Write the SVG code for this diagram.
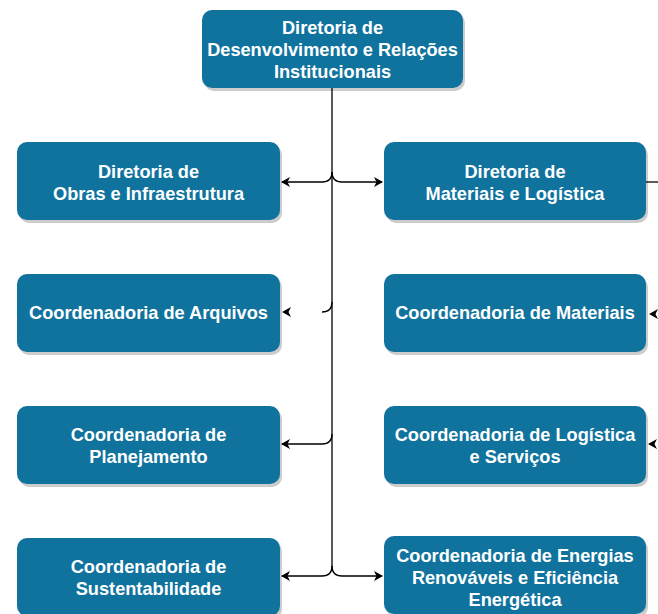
<svg xmlns="http://www.w3.org/2000/svg" width="658" height="614" viewBox="0 0 658 614">
<defs>
<style>
.box{fill:#10739E;}
.sh{fill:#000;opacity:0.2;}
.t{font-family:"Liberation Sans",Arial,sans-serif;font-weight:bold;font-size:18.2px;fill:#fff;text-anchor:middle;}
.c{fill:none;stroke:#000;stroke-width:1.3;}
.ah{fill:#000;}
</style>
<marker id="arr" markerWidth="10" markerHeight="10" refX="8" refY="5" orient="auto" markerUnits="userSpaceOnUse">
<path d="M0,0 L9,5 L0,10 L2.5,5 Z" fill="#000"/>
</marker>
</defs>
<rect width="658" height="614" fill="#fff"/>
<g id="connectors">
<path class="c" d="M332,88 V567"/>
<path class="c" d="M332,172 Q332,182 322,182 H282" marker-end="url(#arr)"/>
<path class="c" d="M332,172 Q332,182 342,182 H382" marker-end="url(#arr)"/>
<path class="c" d="M332,302 Q332,312 322,312"/>
<path class="ah" d="M282,312 L291,307 L288.5,312 L291,317 Z"/>
<path class="c" d="M332,434 Q332,444 322,444 H282" marker-end="url(#arr)"/>
<path class="c" d="M332,566 Q332,576 322,576 H282" marker-end="url(#arr)"/>
<path class="c" d="M332,566 Q332,576 342,576 H382" marker-end="url(#arr)"/>
<path class="c" d="M646,182 H658"/>
<path class="ah" d="M649,314 L658,309 L655.5,314 L658,319 Z"/>
<path class="ah" d="M648,444 L657,439 L654.5,444 L657,449 Z"/>
</g>
<g id="n0"><rect class="sh" x="204" y="13" width="261" height="78" rx="10"/><rect class="box" x="202" y="10" width="261" height="78" rx="10"/>
<text class="t" x="332.5" y="34">Diretoria de</text><text class="t" x="332.5" y="56">Desenvolvimento e Relações</text><text class="t" x="332.5" y="78">Institucionais</text></g>
<g id="n1"><rect class="sh" x="19" y="145" width="263" height="78" rx="10"/><rect class="box" x="17" y="142" width="263" height="78" rx="10"/>
<text class="t" x="148.5" y="178">Diretoria de</text><text class="t" x="148.5" y="200">Obras e Infraestrutura</text></g>
<g id="n2"><rect class="sh" x="386" y="145" width="262" height="78" rx="10"/><rect class="box" x="384" y="142" width="262" height="78" rx="10"/>
<text class="t" x="515" y="178">Diretoria de</text><text class="t" x="515" y="200">Materiais e Logística</text></g>
<g id="n3"><rect class="sh" x="19" y="277" width="263" height="78" rx="10"/><rect class="box" x="17" y="274" width="263" height="78" rx="10"/>
<text class="t" x="148.5" y="319">Coordenadoria de Arquivos</text></g>
<g id="n4"><rect class="sh" x="386" y="277" width="262" height="78" rx="10"/><rect class="box" x="384" y="274" width="262" height="78" rx="10"/>
<text class="t" x="515" y="319">Coordenadoria de Materiais</text></g>
<g id="n5"><rect class="sh" x="19" y="409" width="263" height="78" rx="10"/><rect class="box" x="17" y="406" width="263" height="78" rx="10"/>
<text class="t" x="148.5" y="441">Coordenadoria de</text><text class="t" x="148.5" y="463">Planejamento</text></g>
<g id="n6"><rect class="sh" x="386" y="409" width="262" height="78" rx="10"/><rect class="box" x="384" y="406" width="262" height="78" rx="10"/>
<text class="t" x="515" y="441">Coordenadoria de Logística</text><text class="t" x="515" y="463">e Serviços</text></g>
<g id="n7"><rect class="sh" x="19" y="541" width="263" height="78" rx="10"/><rect class="box" x="17" y="538" width="263" height="78" rx="10"/>
<text class="t" x="148.5" y="573">Coordenadoria de</text><text class="t" x="148.5" y="595">Sustentabilidade</text></g>
<g id="n8"><rect class="sh" x="386" y="539" width="262" height="78" rx="10"/><rect class="box" x="384" y="536" width="262" height="78" rx="10"/>
<text class="t" x="515" y="562">Coordenadoria de Energias</text><text class="t" x="515" y="584">Renováveis e Eficiência</text><text class="t" x="515" y="606">Energética</text></g>
</svg>
